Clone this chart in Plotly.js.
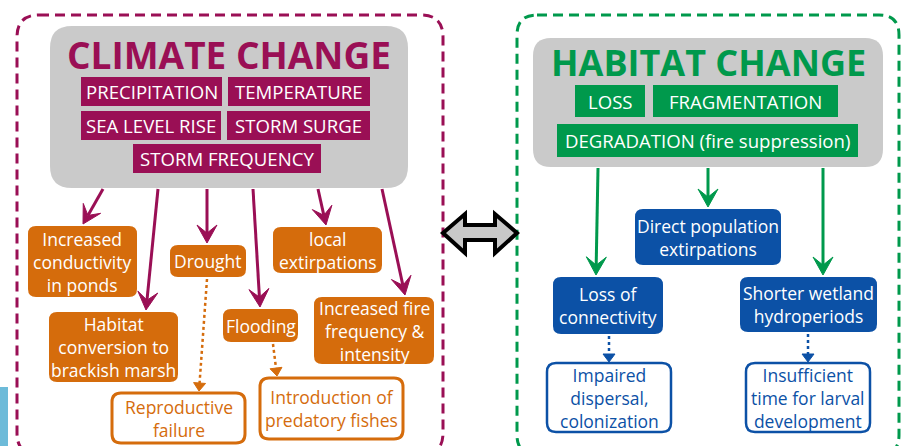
<!DOCTYPE html>
<html>
<head>
<meta charset="utf-8">
<script src="https://cdn.plot.ly/plotly-3.0.1.min.js"></script>
<style>html,body{margin:0;padding:0;background:#fff;}#chart{width:901px;height:446px;}</style>
</head>
<body>
<div id="chart"></div>
<script>
// ---- content (text) ----
const climateTitle = 'CLIMATE CHANGE';
const climateFactors = ['PRECIPITATION', 'TEMPERATURE', 'SEA LEVEL RISE', 'STORM SURGE', 'STORM FREQUENCY'];
const climateEffects = ['Increased<br>conductivity<br>in ponds', 'Habitat<br>conversion to<br>brackish marsh', 'Drought', 'Flooding', 'local<br>extirpations', 'Increased fire<br>frequency &<br>intensity'];
const climateOutcomes = ['Reproductive<br>failure', 'Introduction of<br>predatory fishes'];
const habitatTitle = 'HABITAT CHANGE';
const habitatFactors = ['LOSS', 'FRAGMENTATION', 'DEGRADATION (fire suppression)'];
const habitatEffects = ['Direct population<br>extirpations', 'Loss of<br>connectivity', 'Shorter wetland<br>hydroperiods'];
const habitatOutcomes = ['Impaired<br>dispersal,<br>colonization', 'Insufficient<br>time for larval<br>development'];

// ---- layout geometry (pixel space: x0, x1, y0, y1) ----
const climateFactorBoxes = [[81,222,77,106],[228,370,77,106],[81,221,111,140],[227,370,111,140],[133,321,144,173]];
const climateEffectBoxes = [[28,137,226,297],[49,178,312,382],[170,246,245,277],[223,298,309,342],[273,382,227,273],[314,434,297,364]];
const climateOutcomeBoxes = [[112,245,393,443],[260,403,378,439]];
const habitatFactorBoxes = [[575,645,85,117],[653,838,85,117],[557,858,124,157]];
const habitatEffectBoxes = [[635,781,209,265],[553,663,277,334],[740,877,277,332]];
const habitatOutcomeBoxes = [[547,671,363,432],[746,870,363,432]];
// arrows: [x_tail, y_tail, x_tip, y_tip]
const climateArrows = [[103,189,83,224],[158,189,146,310],[207,189,207,243],[253,189,260,307],[318,189,326,225],[382,189,405,295]];
const climateDotArrows = [[207,279,199,391],[273,344,277,376]];
const habitatArrows = [[598,168,596,275],[708,168,708,207],[823,168,823,275]];
const habitatDotArrows = [[609,336,609,362],[808,334,808,362]];

// ---- styles ----
const MAROON = '#9a0f55', ORANGE = '#d56c0c', GREEN = '#00994c', BLUE = '#0c51a6', GRAY = '#cacaca';
const FONT = 'Open Sans, Noto Sans, sans-serif';

function rr(x0, y0, x1, y1, r) {
  return `M${x0+r},${y0} L${x1-r},${y0} Q${x1},${y0} ${x1},${y0+r} L${x1},${y1-r} Q${x1},${y1} ${x1-r},${y1} L${x0+r},${y1} Q${x0},${y1} ${x0},${y1-r} L${x0},${y0+r} Q${x0},${y0} ${x0+r},${y0} Z`;
}
const shapes = [];
const annotations = [];
function box(b, r, fill, lineColor, lineWidth) {
  shapes.push({type: 'path', xref: 'x', yref: 'y', path: rr(b[0], b[2], b[1], b[3], r),
    fillcolor: fill, line: {color: lineColor || fill, width: lineWidth || 0}, layer: 'below'});
}
function label(b, text, color, size, bold) {
  annotations.push({x: (b[0]+b[1])/2, y: (b[2]+b[3])/2, xref: 'x', yref: 'y',
    text: bold ? '<b>' + text + '</b>' : text,
    showarrow: false, xanchor: 'center', yanchor: 'middle', align: 'center',
    font: {family: FONT, size: size, color: color}});
}
function arrow(a, color, width, L, W, dash) {
  const [x1, y1, x2, y2] = a;
  const len = Math.hypot(x2-x1, y2-y1), ux = (x2-x1)/len, uy = (y2-y1)/len, px = -uy, py = ux;
  const bx = x2 - L*ux, by = y2 - L*uy;
  const nx = x2 - 0.55*L*ux, ny = y2 - 0.55*L*uy;
  shapes.push({type: 'line', xref: 'x', yref: 'y', x0: x1, y0: y1, x1: dash ? bx : nx, y1: dash ? by : ny,
    line: {color: color, width: width, dash: dash || 'solid'}});
  const path = dash
    ? `M${x2},${y2} L${bx+W*px},${by+W*py} L${bx-W*px},${by-W*py} Z`
    : `M${x2},${y2} L${bx+W*px},${by+W*py} L${nx},${ny} L${bx-W*px},${by-W*py} Z`;
  shapes.push({type: 'path', xref: 'x', yref: 'y', path: path, fillcolor: color, line: {color: color, width: 1}});
}

// outer dashed frames
shapes.push({type: 'path', xref: 'x', yref: 'y', path: rr(17, 15, 443, 455, 22), line: {color: MAROON, width: 3, dash: '10px,6px'}, fillcolor: 'rgba(0,0,0,0)'});
shapes.push({type: 'path', xref: 'x', yref: 'y', path: rr(517, 15, 899, 455, 20), line: {color: GREEN, width: 3, dash: '10px,6px'}, fillcolor: 'rgba(0,0,0,0)'});
// side blue strip
shapes.push({type: 'rect', xref: 'x', yref: 'y', x0: 0, x1: 8, y0: 387, y1: 446, fillcolor: '#6dbbd9', line: {width: 0}});

// climate panel
box([50, 408, 26, 188], 22, GRAY);
label([50, 408, 34, 74], climateTitle, MAROON, 37, true);
climateFactorBoxes.forEach((b, i) => { box(b, 0, MAROON); label(b, climateFactors[i], '#ffffff', 18.6); });
climateEffectBoxes.forEach((b, i) => { box(b, 8, ORANGE); label(b, climateEffects[i], '#ffffff', 17.5); });
climateOutcomeBoxes.forEach((b, i) => { box(b, 9, '#ffffff', ORANGE, 3); label(b, climateOutcomes[i], ORANGE, 17.5); });
climateArrows.forEach(a => arrow(a, MAROON, 3, 18, 10));
climateDotArrows.forEach(a => arrow(a, ORANGE, 2.5, 8, 6, 'dot'));

// habitat panel
box([533, 883, 38, 167], 18, GRAY);
label([533, 883, 44, 80], habitatTitle, GREEN, 36, true);
habitatFactorBoxes.forEach((b, i) => { box(b, 0, GREEN); label(b, habitatFactors[i], '#ffffff', 18.6); });
habitatEffectBoxes.forEach((b, i) => { box(b, 8, BLUE); label(b, habitatEffects[i], '#ffffff', 17.5); });
habitatOutcomeBoxes.forEach((b, i) => { box(b, 9, '#ffffff', BLUE, 2.5); label(b, habitatOutcomes[i], BLUE, 17.5); });
habitatArrows.forEach(a => arrow(a, GREEN, 3, 18, 10));
habitatDotArrows.forEach(a => arrow(a, BLUE, 2.5, 8, 6, 'dot'));

// double-headed link arrow
shapes.push({type: 'path', xref: 'x', yref: 'y',
  path: 'M443,233 L465,214 L465,225 L495,225 L495,214 L517,233 L495,253 L495,240 L465,240 L465,253 Z',
  fillcolor: '#c8c8c8', line: {color: '#000000', width: 4}});

const layout = {
  width: 901, height: 446, autosize: false,
  margin: {l: 0, r: 0, t: 0, b: 0, pad: 0},
  paper_bgcolor: '#ffffff', plot_bgcolor: '#ffffff',
  xaxis: {range: [0, 901], visible: false, fixedrange: true},
  yaxis: {range: [446, 0], visible: false, fixedrange: true},
  showlegend: false,
  shapes: shapes, annotations: annotations
};
Plotly.newPlot('chart', [], layout, {staticPlot: true, displayModeBar: false});
</script>
</body>
</html>
